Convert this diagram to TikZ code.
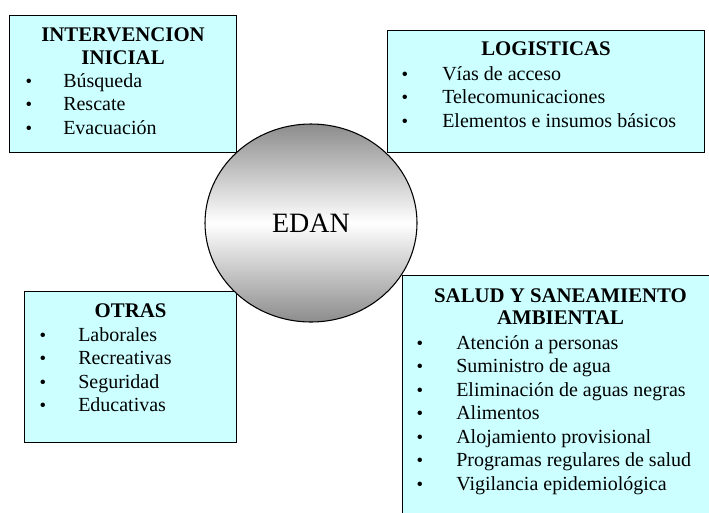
\documentclass[tikz,border=0pt]{standalone}
\usepackage{fontspec}
\setmainfont{Liberation Serif}
\usetikzlibrary{calc, shapes.geometric}
\definecolor{boxcyan}{RGB}{204,255,255}

\begin{document}
\begin{tikzpicture}[x=0.75pt, y=-0.75pt,
    panel/.style={draw=black, line width=0.8pt, fill=boxcyan, anchor=north west, inner sep=0pt},
    heading/.style={font=\fontsize{15.6}{17.6}\selectfont\bfseries, anchor=base, inner sep=0pt},
    entry/.style={font=\fontsize{15}{17.6}\selectfont, anchor=base west, inner sep=0pt},
    dot/.style={font=\fontsize{14}{17.6}\selectfont, anchor=base, inner sep=0pt},
    hub/.style={ellipse, draw=black, line width=0.8pt, top color=gray!110!black, bottom color=gray!110!black, middle color=white, minimum width=159pt, minimum height=148.5pt, inner sep=0pt, font=\fontsize{21}{25}\selectfont}]
    % Page frame
    \useasboundingbox (0,0) rectangle (709,512);
    \clip (0,0) rectangle (709,512);
    % Boxes
    \node[panel, minimum width=170.25pt, minimum height=102.75pt] (inter) at (9,15) {};
    \node[panel, minimum width=237.75pt, minimum height=91.5pt] (logis) at (387,30) {};
    \node[panel, minimum width=159pt, minimum height=113.25pt] (otras) at (24,291) {};
    \node[panel, minimum width=237pt, minimum height=195pt] (salud) at (402,275) {};
    % Titles
    \node[heading] (inter-t1) at ($(inter.north)+(0,26)$) {INTERVENCION};
    \node[heading] (inter-t2) at ($(inter.north)+(0,49)$) {INICIAL};
    \node[heading] (logis-t1) at ($(logis.north)+(0,25)$) {LOGISTICAS};
    \node[heading] (otras-t1) at ($(otras.north)+(0,26)$) {OTRAS};
    \node[heading] (salud-t1) at ($(salud.north)+(0,27)$) {SALUD Y SANEAMIENTO};
    \node[heading] (salud-t2) at ($(salud.north)+(0,49)$) {AMBIENTAL};
    % Items
    \foreach \txt [count=\i from 0] in {Búsqueda, Rescate, Evacuación}
    {
        \node[dot] (inter-d\i) at ($(inter.north west)+(20,72+23.5*\i)$) {\textbullet};
        \node[entry] (inter-e\i) at ($(inter.north west)+(54,72+23.5*\i)$) {\txt};
    }
    \foreach \txt [count=\i from 0] in {Vías de acceso, Telecomunicaciones, Elementos e insumos básicos}
    {
        \node[dot] (logis-d\i) at ($(logis.north west)+(18,50+23.5*\i)$) {\textbullet};
        \node[entry] (logis-e\i) at ($(logis.north west)+(55,50+23.5*\i)$) {\txt};
    }
    \foreach \txt [count=\i from 0] in {Laborales, Recreativas, Seguridad, Educativas}
    {
        \node[dot] (otras-d\i) at ($(otras.north west)+(19,50+23.5*\i)$) {\textbullet};
        \node[entry] (otras-e\i) at ($(otras.north west)+(54,50+23.5*\i)$) {\txt};
    }
    \foreach \txt [count=\i from 0] in {Atención a personas, Suministro de agua, Eliminación de aguas negras, Alimentos, Alojamiento provisional, Programas regulares de salud, Vigilancia epidemiológica}
    {
        \node[dot] (salud-d\i) at ($(salud.north west)+(18,74+23.5*\i)$) {\textbullet};
        \node[entry] (salud-e\i) at ($(salud.north west)+(54,74+23.5*\i)$) {\txt};
    }
    % Centre
    \node[hub] (edan) at (311,223) {EDAN};
\end{tikzpicture}
\end{document}
